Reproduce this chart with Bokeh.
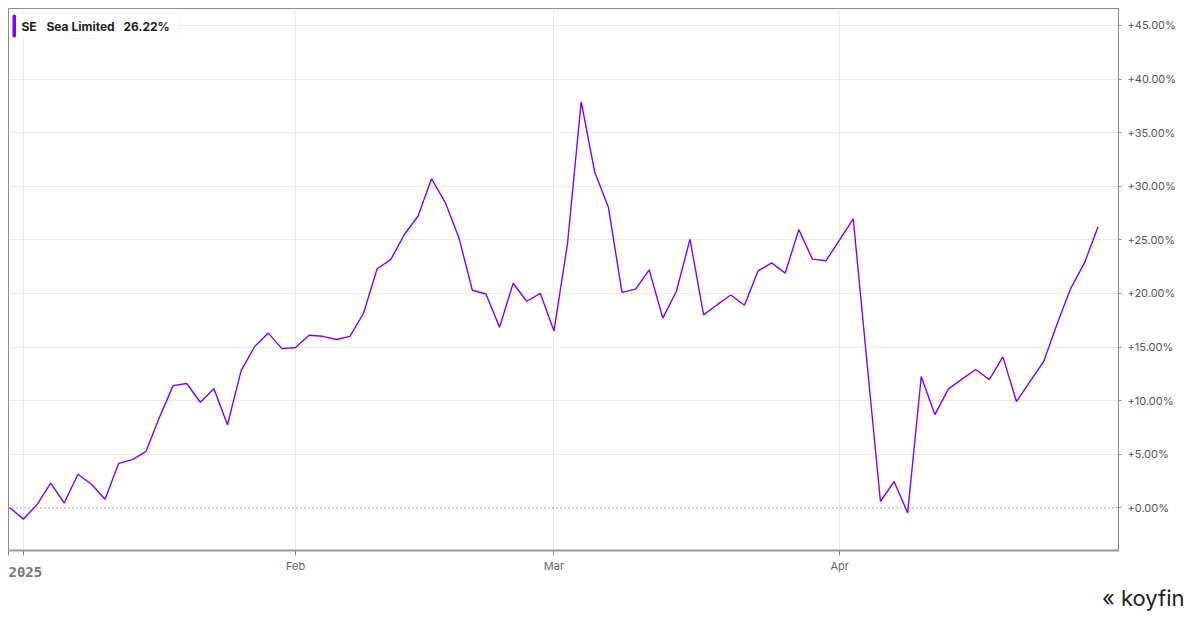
from bokeh.plotting import figure
from bokeh.models import (FixedTicker, Span, BoxAnnotation, Label, Range1d,
                          ColumnDataSource, Title)
from bokeh.embed import file_html
from bokeh.resources import INLINE

# ---------------- data ----------------
# trading-day index (0 = start of 2025) and cumulative return in %
returns = [
    0.0, -1.05, 0.3, 2.3, 0.45, 3.13, 2.2, 0.8, 4.15, 4.5,
    5.25, 8.45, 11.4, 11.6, 9.85, 11.1, 7.75, 12.8, 15.05, 16.3,
    14.85, 14.95, 16.1, 16.0, 15.7, 16.0, 18.15, 22.3, 23.15, 25.5,
    27.2, 30.7, 28.5, 25.25, 20.3, 19.95, 16.85, 20.95, 19.27, 20.0,
    16.5, 24.7, 37.9, 31.3, 28.05, 20.1, 20.4, 22.2, 17.7, 20.2,
    25.05, 18.0, 18.95, 19.85, 18.9, 22.1, 22.85, 21.9, 25.95, 23.2,
    23.05, 25.0, 26.95, 13.7, 0.59, 2.45, -0.47, 12.25, 8.7, 11.1,
    12.0, 12.9, 11.97, 14.08, 9.92, 11.8, 13.65, 17.2, 20.5, 22.85,
    26.22,
]
day_index = list(range(len(returns)))

month_ticks = [1, 21, 40, 61]
month_labels = ["2025", "Feb", "Mar", "Apr"]

y_ticks = [0, 5, 10, 15, 20, 25, 30, 35, 40, 45]
y_labels = ["+%.2f%%" % t for t in y_ticks]

ticker_symbol = "SE"
company = "Sea Limited"
last_value = "26.22%"
brand = "koyfin"

LINE_COLOR = "#7f00ff"
FONT = "Inter"

# ---------------- layout helpers ----------------
X0, X1 = -0.1, 81.5
Y0, Y1 = -3.98, 46.58
FL, FR, FT, FB = 8, 1118, 8, 550  # frame edges in page pixels


def dx(px):
    return X0 + (px - FL) / (FR - FL) * (X1 - X0)


def dy(py):
    return Y1 - (py - FT) / (FB - FT) * (Y1 - Y0)


p = figure(width=1191, height=611, output_backend="svg", toolbar_location=None,
           x_range=Range1d(X0, X1), y_range=Range1d(Y0, Y1),
           y_axis_location="right", min_border_left=8, min_border_top=8,
           min_border_right=73, min_border_bottom=61)
p.background_fill_color = "white"
p.border_fill_color = "white"
p.outline_line_color = "#8a8a8a"
p.outline_line_width = 1

src = ColumnDataSource(dict(x=day_index, y=returns))
p.line("x", "y", source=src, line_color=LINE_COLOR, line_width=1.4)

# zero line
p.add_layout(Span(location=0, dimension="width", line_color="#555555",
                  line_dash="1 3", line_width=1))

# grids
p.ygrid.ticker = FixedTicker(ticks=y_ticks[1:])
p.ygrid.grid_line_color = "#e9e9e9"
p.xgrid.ticker = FixedTicker(ticks=month_ticks)
p.xgrid.grid_line_color = "#e9e9e9"

# x axis
xax = p.xaxis[0]
xax.ticker = FixedTicker(ticks=[X0] + month_ticks)
overrides = {X0: ""}
for t, lab in zip(month_ticks, month_labels):
    overrides[t] = lab
overrides[month_ticks[0]] = ""
xax.major_label_overrides = overrides
xax.axis_line_color = "#9a9a9a"
xax.axis_line_width = 2
xax.major_tick_line_color = "#8a8a8a"
xax.major_tick_out = 5
xax.major_tick_in = 0
xax.minor_tick_line_color = None
xax.major_label_text_font = FONT
xax.major_label_text_font_size = "11px"
xax.major_label_text_color = "#666666"
xax.major_label_standoff = 3

# the year label is bold: shown as the axis label, pulled up into the tick row
# (anchored at the frame start; non-breaking spaces push it right of the edge)
xax.axis_label = "\u00a0\u00a0\u00a0\u00a0" + month_labels[0]
xax.axis_label_text_font = "DejaVu Sans Mono"
xax.axis_label_text_font_style = "bold"
xax.axis_label_text_font_size = "14px"
xax.axis_label_text_color = "#777777"
xax.axis_label_standoff = -12
xax.axis_label_align = "start"

# y axis (right)
yax = p.yaxis[0]
yax.ticker = FixedTicker(ticks=y_ticks)
yax.major_label_overrides = {t: l for t, l in zip(y_ticks, y_labels)}
yax.axis_line_color = "#8a8a8a"
yax.major_tick_line_color = "#8a8a8a"
yax.major_tick_out = 3
yax.major_tick_in = 0
yax.minor_tick_line_color = None
yax.major_label_text_font = FONT
yax.major_label_text_font_size = "11px"
yax.major_label_text_color = "#555555"
yax.major_label_standoff = 6

# legend box
p.add_layout(BoxAnnotation(left=dx(12), right=dx(179), top=dy(13), bottom=dy(38),
                           fill_color="white", fill_alpha=1,
                           line_color="#e4e4e4", line_width=1, border_radius=4,
                           level="overlay"))
p.add_layout(BoxAnnotation(left=dx(12), right=dx(15.5), top=dy(14), bottom=dy(37),
                           fill_color=LINE_COLOR, fill_alpha=1, line_color=None,
                           border_radius=2, level="overlay"))
for px, txt in [(21, ticker_symbol), (46, company), (123, last_value)]:
    p.add_layout(Label(x=dx(px), y=dy(25.5), text=txt, text_font=FONT,
                       text_font_style="bold", text_font_size="12px",
                       text_color="#222222", text_baseline="middle",
                       level="overlay"))

# logo (as a title below the axis, aligned to the right)
p.add_layout(Title(text="\u00ab " + brand, align="right", offset=-66, standoff=0,
                   text_font=FONT, text_font_size="22px",
                   text_font_style="normal", text_color="#222222"), "below")

open("out.html", "w").write(file_html(p, INLINE))
